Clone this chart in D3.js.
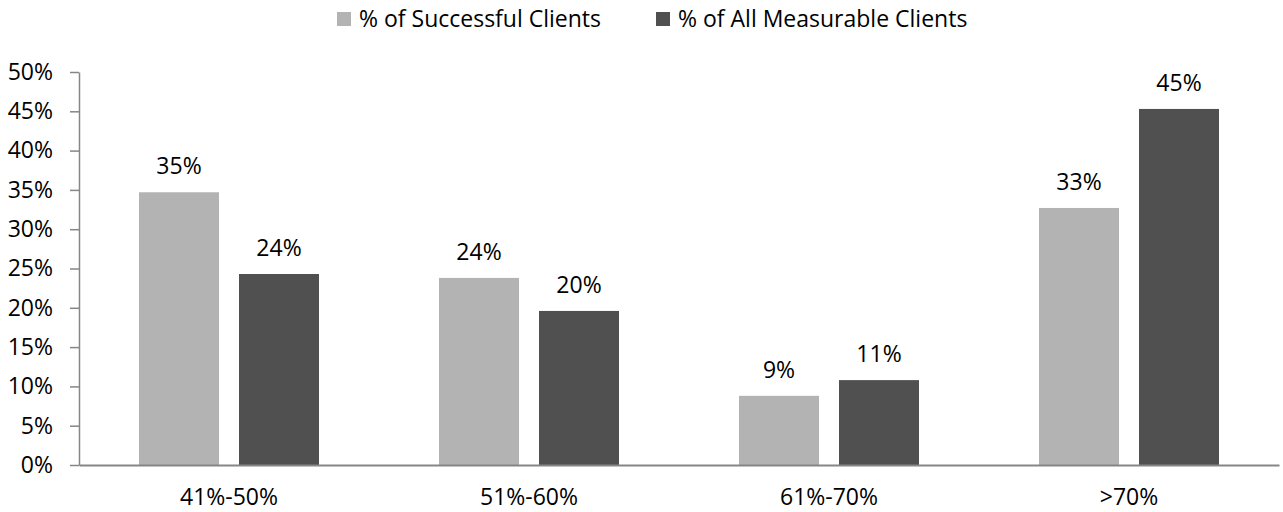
<!DOCTYPE html>
<html>
<head>
<meta charset="utf-8">
<script src="https://cdn.jsdelivr.net/npm/d3@7"></script>
<style>
  html, body { margin: 0; padding: 0; background: #ffffff; }
  svg text { font-family: "Open Sans", sans-serif; fill: #000000; }
</style>
</head>
<body>
<svg id="chart" width="1283" height="512"></svg>
<script>
// Share of clients by score band
const categories = ["41%-50%", "51%-60%", "61%-70%", ">70%"];
const seriesNames = ["% of Successful Clients", "% of All Measurable Clients"];
const successful = [34.7, 23.8, 8.8, 32.7];
const allMeasurable = [24.3, 19.6, 10.8, 45.3];
const yTicks = [0, 5, 10, 15, 20, 25, 30, 35, 40, 45, 50];
const colors = ["#b3b3b3", "#505050"];

const series = [successful, allMeasurable];

const svg = d3.select("#chart");
const fontSize = 23;
const axisColor = "#868686";

const plot = { left: 79, right: 1279, top: 72, bottom: 465 };

const x0 = d3.scaleBand().domain(categories).range([plot.left, plot.right]).paddingInner(0).paddingOuter(0);
const x1 = d3.scaleBand().domain(d3.range(series.length)).range([0, x0.bandwidth()])
  .paddingInner(0.2).paddingOuter(0.6);
const y = d3.scaleLinear().domain([0, 50]).range([plot.bottom, plot.top]);

// Y axis
const yAxis = d3.axisLeft(y).tickValues(yTicks).tickSize(9).tickSizeOuter(0)
  .tickFormat(d => d + "%");
const gy = svg.append("g").attr("transform", `translate(${plot.left},0)`).call(yAxis);
gy.select(".domain").attr("stroke", axisColor).attr("stroke-width", 1.5);
gy.selectAll(".tick line").attr("stroke", axisColor).attr("stroke-width", 1.5);
gy.selectAll(".tick text")
  .attr("x", -26)
  .attr("font-size", fontSize)
  .attr("font-family", "'Open Sans', sans-serif")
  .attr("fill", "#000");

// Bars
const groups = svg.append("g").selectAll("g")
  .data(categories)
  .join("g")
  .attr("transform", d => `translate(${x0(d)},0)`);

groups.selectAll("rect")
  .data((d, i) => series.map((s, si) => ({ si, v: s[i] })))
  .join("rect")
  .attr("x", d => x1(d.si))
  .attr("width", x1.bandwidth())
  .attr("y", d => y(d.v))
  .attr("height", d => y(0) - y(d.v))
  .attr("fill", d => colors[d.si]);

// Value labels
groups.selectAll("text.val")
  .data((d, i) => series.map((s, si) => ({ si, v: s[i] })))
  .join("text")
  .attr("class", "val")
  .attr("x", d => x1(d.si) + x1.bandwidth() / 2)
  .attr("y", d => y(d.v) - 18)
  .attr("text-anchor", "middle")
  .attr("font-size", fontSize)
  .text(d => Math.round(d.v) + "%");

// X axis (baseline, no tick marks)
const xAxis = d3.axisBottom(x0).tickSize(0).tickSizeOuter(0);
const gx = svg.append("g").attr("transform", `translate(0,${plot.bottom})`).call(xAxis);
gx.select(".domain").attr("stroke", axisColor).attr("stroke-width", 2);
gx.selectAll(".tick text")
  .attr("dy", 0)
  .attr("y", 40)
  .attr("font-size", fontSize)
  .attr("font-family", "'Open Sans', sans-serif")
  .attr("fill", "#000");

// Legend
const legendItems = [
  { name: seriesNames[0], color: colors[0], x: 337 },
  { name: seriesNames[1], color: colors[1], x: 656 }
];
const lg = svg.append("g");
legendItems.forEach(item => {
  lg.append("rect")
    .attr("x", item.x).attr("y", 12)
    .attr("width", 14).attr("height", 14)
    .attr("fill", item.color);
  lg.append("text")
    .attr("x", item.x + 22).attr("y", 27)
    .attr("font-size", fontSize)
    .text(item.name);
});
</script>
</body>
</html>
